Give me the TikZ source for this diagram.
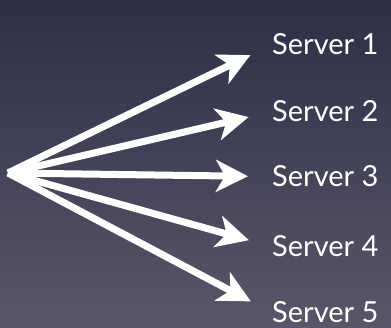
\documentclass[tikz,border=0pt]{standalone}
\usepackage{fontspec}
\setmainfont{Lato}
\usetikzlibrary{arrows.meta}
\definecolor{bgtop}{RGB}{44,47,70}
\definecolor{bgbottom}{RGB}{90,86,106}
\begin{document}
\begin{tikzpicture}[x=1pt, y=1pt,
        every node/.style={inner sep=0pt, text=white, font=\fontsize{29}{30}\selectfont},
        server/.style={anchor=base west},
        fanout/.style={draw=white, line width=7pt,
            -{Stealth[length=32pt, width=32pt, inset=9pt]},
            shorten >=24pt}]
    \shade [top color=bgtop, bottom color=bgbottom] (0,0) rectangle (391,328);
    \coordinate (src) at (8,155);
    \node [server] (s1) at (272,273) {Server 1};
    \node [server] (s2) at (272,206) {Server 2};
    \node [server] (s3) at (272,141) {Server 3};
    \node [server] (s4) at (272,71) {Server 4};
    \node [server] (s5) at (272,5) {Server 5};
    \draw [fanout] (src) -- (s1.west);
    \draw [fanout] (src) -- (s2.west);
    \draw [fanout] (src) -- (s3.west);
    \draw [fanout] (src) -- (s4.west);
    \draw [fanout] (src) -- (s5.west);
\end{tikzpicture}
\end{document}
